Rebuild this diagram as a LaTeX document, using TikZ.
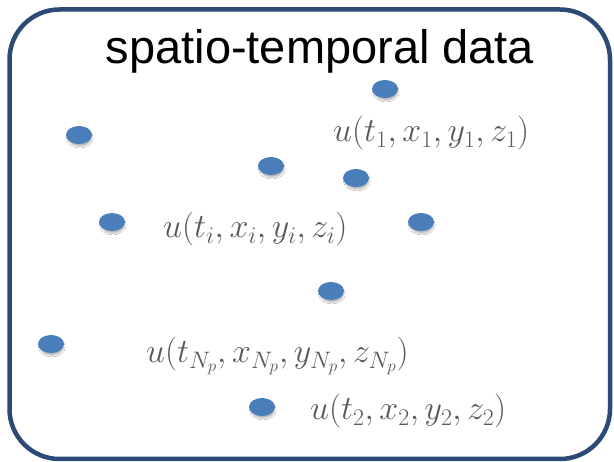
\documentclass[tikz,border=0pt]{standalone}
\usepackage{fix-cm}
\usepackage[no-math]{fontspec}
\newfontfamily\titlefont{Liberation Sans}
\usepackage{amsmath}
\usetikzlibrary{shapes.geometric}
\usetikzlibrary{shadows.blur}
\definecolor{framenavy}{HTML}{2B4A75}
\definecolor{dotblue}{HTML}{4A7EBB}
\definecolor{labelgray}{HTML}{595959}

\begin{document}
\begin{tikzpicture}[x = 1pt, y = -1pt,
    datapt/.style = {ellipse, minimum width = 26pt, minimum height = 18pt,
      inner sep = 0pt, fill = dotblue,
      blur shadow = {shadow xshift = 1pt, shadow yshift = -3.5pt,
        shadow scale = 0.9, shadow blur radius = 1.8pt, shadow opacity = 30}},
    datalabel/.style = {anchor = base west, inner sep = 0pt, text = labelgray,
      font = \fontsize{34}{39}\selectfont}]
  \useasboundingbox (0,0) rectangle (614,462);

  % Outer frame
  \draw[framenavy, line width = 4.5pt, fill = white, rounded corners = 50pt]
    (9.5,9.5) rectangle (610,459);

  % Title
  \node[anchor = base, inner sep = 0pt, font = \titlefont\fontsize{47}{54}\selectfont]
    (title) at (320,64) {spatio-temporal data};

  % Sample points
  \node[datapt] (pa) at (385,89) {};
  \node[datapt] (pb) at (79,135) {};
  \node[datapt] (pc) at (271,166) {};
  \node[datapt] (pd) at (356,178) {};
  \node[datapt] (pe) at (112,222) {};
  \node[datapt] (pf) at (421,222) {};
  \node[datapt] (pg) at (331,291) {};
  \node[datapt] (ph) at (51,344) {};
  \node[datapt] (pk) at (262,407) {};

  % Point labels
  \node[datalabel] (lone) at (333,142) {$u(t_1,x_1,y_1,z_1)$};
  \node[datalabel] (li) at (163,238) {$u(t_i,x_i,y_i,z_i)$};
  \node[datalabel] (lnp) at (146,363) {$u(t_{N_p},x_{N_p},y_{N_p},z_{N_p})$};
  \node[datalabel] (ltwo) at (310,420) {$u(t_2,x_2,y_2,z_2)$};
\end{tikzpicture}
\end{document}
